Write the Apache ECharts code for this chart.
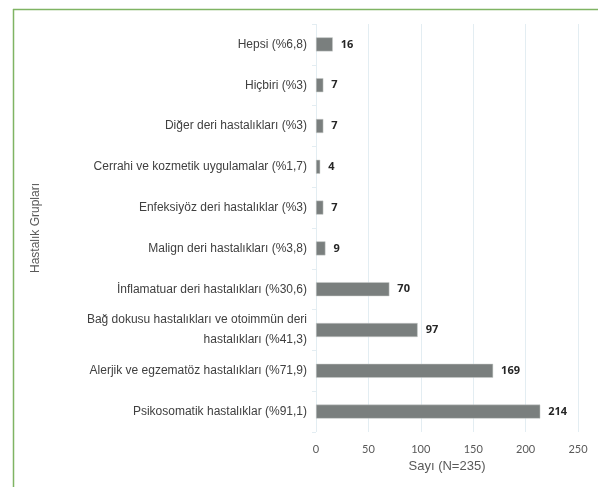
<!DOCTYPE html>
<html>
<head>
<meta charset="utf-8">
<script src="https://cdn.jsdelivr.net/npm/echarts@6/dist/echarts.min.js"></script>
<style>
  html, body { margin: 0; padding: 0; background: #fff; }
  #main { width: 598px; height: 487px; }
</style>
</head>
<body>
<div id="main"></div>
<script>
// categories bottom -> top (echarts category axis starts at the bottom)
var categories = [
    'Psikosomatik hastalıklar (%91,1)',
    'Alerjik ve egzematöz hastalıkları (%71,9)',
    'Bağ dokusu hastalıkları ve otoimmün deri\nhastalıkları (%41,3)',
    'İnflamatuar deri hastalıkları (%30,6)',
    'Malign deri hastalıkları (%3,8)',
    'Enfeksiyöz deri hastalıklar (%3)',
    'Cerrahi ve kozmetik uygulamalar (%1,7)',
    'Diğer deri hastalıkları (%3)',
    'Hiçbiri (%3)',
    'Hepsi (%6,8)'
];
var counts = [214, 169, 97, 70, 9, 7, 4, 7, 7, 16];

var chartDom = document.getElementById('main');
var myChart = echarts.init(chartDom, null, { renderer: 'canvas' });

var option = {
    animation: false,
    backgroundColor: '#fff',
    grid: {
        left: 316,
        right: 20,
        top: 24,
        bottom: 55
    },
    xAxis: {
        type: 'value',
        min: 0,
        max: 250,
        interval: 50,
        name: 'Sayı (N=235)',
        nameLocation: 'middle',
        nameGap: 27,
        nameTextStyle: { color: '#595959', fontSize: 13, fontFamily: 'Liberation Sans' },
        axisLine: { show: false },
        axisTick: { show: false },
        axisLabel: { color: '#595959', fontSize: 11, fontFamily: 'Lato', margin: 12 },
        splitLine: { lineStyle: { color: '#e3edf2', width: 1 } }
    },
    yAxis: {
        type: 'category',
        data: categories,
        name: 'Hastalık Grupları',
        nameLocation: 'middle',
        nameRotate: 90,
        nameGap: 274,
        nameTextStyle: { color: '#595959', fontSize: 12, fontFamily: 'Liberation Sans' },
        axisLine: { show: false },
        axisTick: { show: true, length: 4, lineStyle: { color: '#e3edf2' } },
        axisLabel: {
            color: '#404040',
            fontSize: 12,
            fontFamily: 'Liberation Sans',
            margin: 9,
            align: 'right',
            lineHeight: 20,
            padding: [3, 0, 0, 0]
        }
    },
    series: [
        {
            type: 'bar',
            data: counts,
            barWidth: 14,
            itemStyle: { color: '#7a7f7e', borderColor: '#c8cccb', borderWidth: 0.5 },
            label: {
                show: true,
                position: 'right',
                distance: 8,
                color: '#262626',
                fontSize: 11,
                fontWeight: 'bold',
                fontFamily: 'Open Sans'
            }
        }
    ],
    graphic: [
        {
            type: 'line',
            shape: { x1: 13, y1: 9.5, x2: 598, y2: 9.5 },
            style: { stroke: '#7fb463', lineWidth: 1.5 }
        },
        {
            type: 'line',
            shape: { x1: 13.5, y1: 9, x2: 13.5, y2: 487 },
            style: { stroke: '#7fb463', lineWidth: 1.5 }
        }
    ]
};

myChart.setOption(option);
</script>
</body>
</html>
